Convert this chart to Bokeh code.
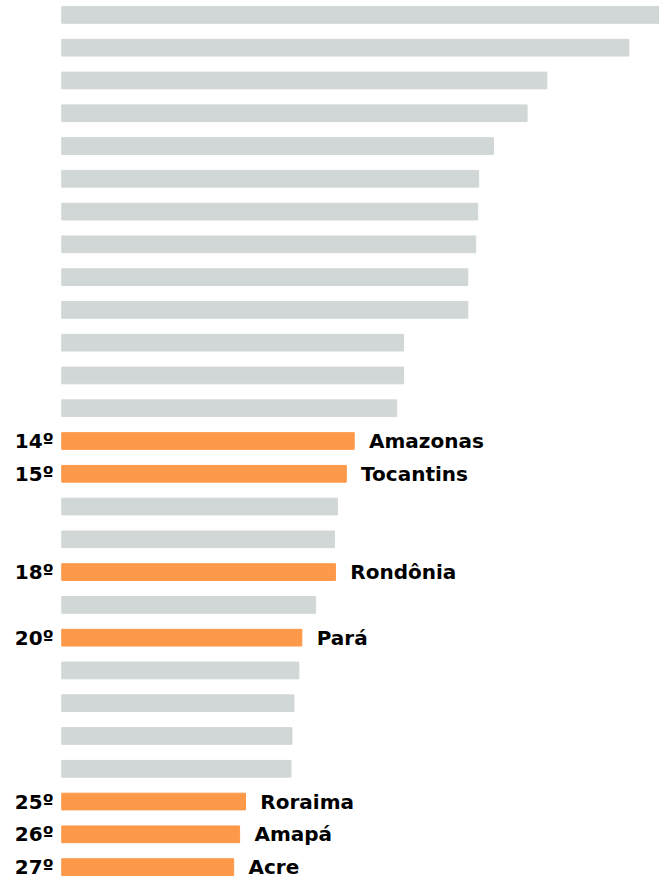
from bokeh.plotting import figure
from bokeh.models import ColumnDataSource, Range1d
from bokeh.core.properties import value
from bokeh.embed import file_html
from bokeh.resources import INLINE

ranks = list(range(1, 28))
values = [620, 574, 491, 471, 437, 422, 421, 419, 411, 411, 346, 346, 339,
          296, 288, 279, 276, 277, 257, 243, 240, 235, 233, 232, 186, 180, 174]
highlight = {14: "Amazonas", 15: "Tocantins", 18: "Rondônia", 20: "Pará",
             25: "Roraima", 26: "Amapá", 27: "Acre"}

GREY = "#d1d7d6"
ORANGE = "#fe994a"

colors = [ORANGE if r in highlight else GREY for r in ranks]
src = ColumnDataSource(dict(y=ranks, right=values, color=colors))

hr = [r for r in ranks if r in highlight]
hsrc = ColumnDataSource(dict(
    y=hr,
    x=[values[r - 1] + 15 for r in hr],
    name=[highlight[r] for r in hr],
    rank=[f"{r}º" for r in hr],
    rx=[-8 for _ in hr],
))

W, H = 659, 882
p = figure(width=W, height=H, output_backend="svg", toolbar_location=None,
           x_range=Range1d(-62, 605), y_range=Range1d(27.47, 0.56),
           min_border=0, min_border_left=0, min_border_right=0,
           min_border_top=0, min_border_bottom=0)
p.axis.visible = False
p.grid.visible = False
p.outline_line_color = None
p.background_fill_color = "white"

p.hbar(y="y", left=0, right="right", height=0.51, color="color", source=src)

p.text(x="x", y="y", text="name", source=hsrc,
       text_font=value("DejaVu Sans"), text_font_style="bold",
       text_font_size="20px", text_baseline="middle", text_align="left",
       text_color="black")
p.text(x="rx", y="y", text="rank", source=hsrc,
       text_font=value("DejaVu Sans"), text_font_style="bold",
       text_font_size="20px", text_baseline="middle", text_align="right",
       text_color="black")

open("out.html", "w").write(file_html(p, INLINE))
